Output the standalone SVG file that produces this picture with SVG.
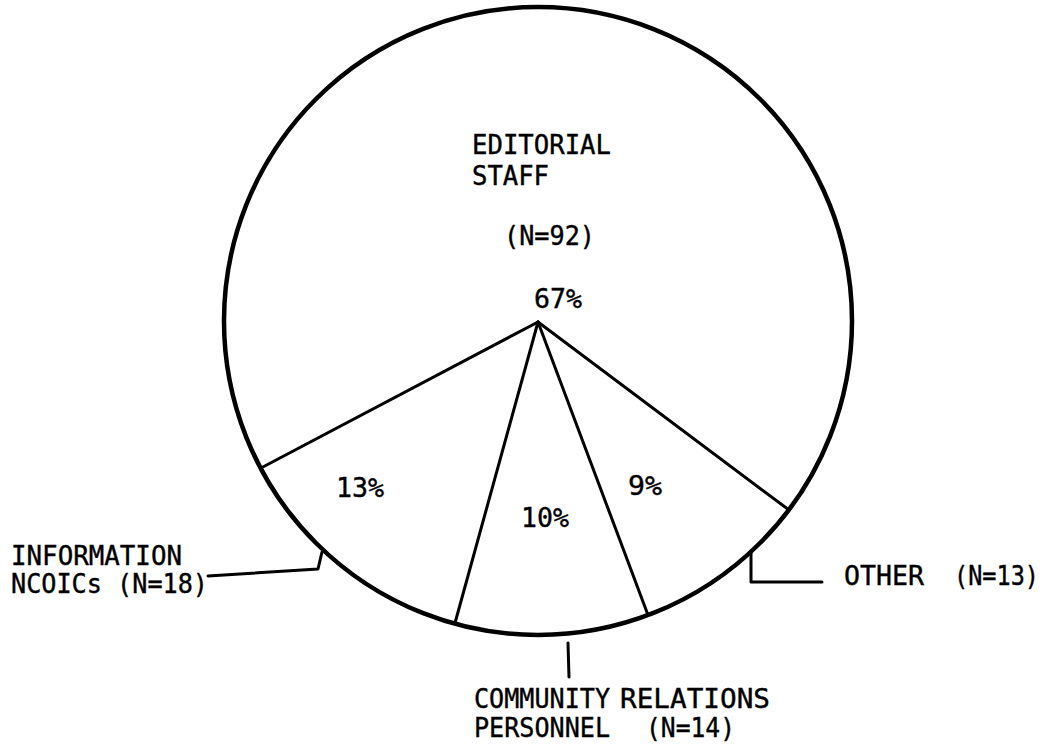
<svg xmlns="http://www.w3.org/2000/svg" width="1050" height="750" viewBox="0 0 1050 750">
<style>
.t{font-family:"DejaVu Sans Mono","Liberation Mono",monospace;font-size:27px;fill:#000;stroke:#000;stroke-width:0.4}
.ln{stroke:#000;stroke-width:3;fill:none;stroke-linecap:round;stroke-linejoin:round}
.rim{stroke:#000;stroke-width:4.5;fill:none}
</style>
<rect width="1050" height="750" fill="#fff"/>
<g id="pie">
<circle class="rim" cx="538" cy="321" r="314"/>
</g>
<g id="connectors">
<line class="ln" x1="538" y1="322" x2="261" y2="468"/>
<line class="ln" x1="538" y1="322" x2="455" y2="623"/>
<line class="ln" x1="538" y1="322" x2="648" y2="615"/>
<line class="ln" x1="538" y1="322" x2="789" y2="510"/>
<polyline class="ln" points="208,576 318,569 322,552"/>
<polyline class="ln" points="751,553 751,582 822,582"/>
<line class="ln" x1="568" y1="643" x2="569" y2="677"/>
</g>
<g id="editorial">
<text class="t" x="472" y="154" textLength="139" lengthAdjust="spacingAndGlyphs">EDITORIAL</text>
<text class="t" x="472" y="185" textLength="77" lengthAdjust="spacingAndGlyphs">STAFF</text>
<text class="t" x="504" y="245" textLength="91" lengthAdjust="spacingAndGlyphs">(N=92)</text>
<text class="t" x="534" y="308" textLength="48" lengthAdjust="spacingAndGlyphs">67%</text>
</g>
<g id="ncoics">
<text class="t" x="336" y="497" textLength="48" lengthAdjust="spacingAndGlyphs">13%</text>
<text class="t" x="11" y="565" textLength="171" lengthAdjust="spacingAndGlyphs">INFORMATION</text>
<text class="t" x="11" y="593" textLength="197" lengthAdjust="spacingAndGlyphs">NCOICs (N=18)</text>
</g>
<g id="community">
<text class="t" x="521" y="527" textLength="48" lengthAdjust="spacingAndGlyphs">10%</text>
<text class="t" x="474" y="708" textLength="136" lengthAdjust="spacingAndGlyphs">COMMUNITY</text>
<text class="t" x="620" y="708" textLength="150" lengthAdjust="spacingAndGlyphs">RELATIONS</text>
<text class="t" x="474" y="737" textLength="136" lengthAdjust="spacingAndGlyphs">PERSONNEL</text>
<text class="t" x="646" y="737" textLength="89" lengthAdjust="spacingAndGlyphs">(N=14)</text>
</g>
<g id="other">
<text class="t" x="628" y="495" textLength="34" lengthAdjust="spacingAndGlyphs">9%</text>
<text class="t" x="844" y="585" textLength="80" lengthAdjust="spacingAndGlyphs">OTHER</text>
<text class="t" x="954" y="585" textLength="85" lengthAdjust="spacingAndGlyphs">(N=13)</text>
</g>
</svg>
